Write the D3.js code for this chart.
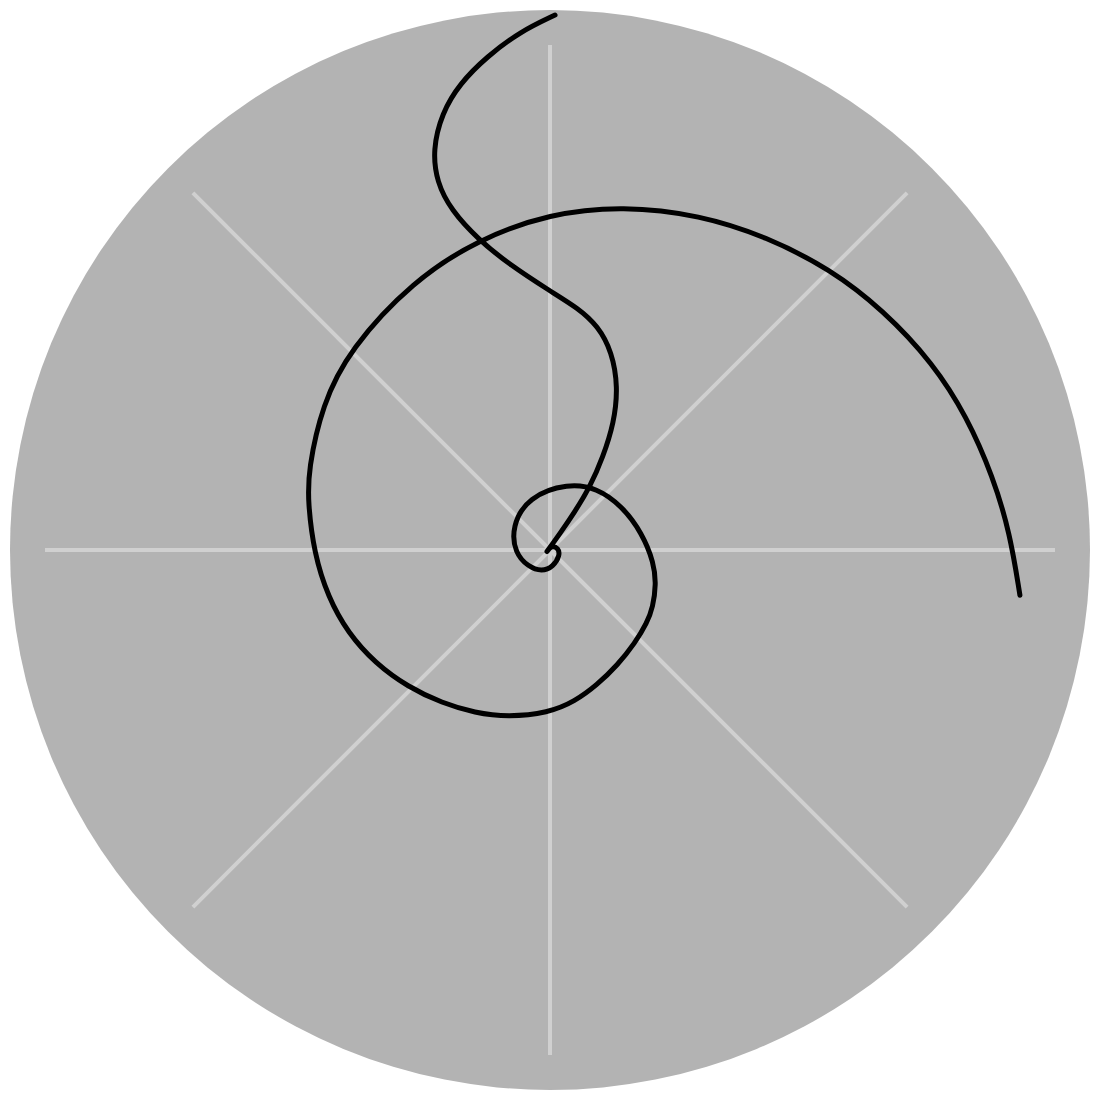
<!DOCTYPE html>
<html>
<head>
<meta charset="utf-8">
<script src="https://cdn.jsdelivr.net/npm/d3@7"></script>
<style>
  html, body { margin: 0; padding: 0; background: #ffffff; }
  svg { display: block; }
</style>
</head>
<body>
<svg id="chart" width="1100" height="1100"></svg>
<script>
// Angles in degrees, clockwise from north (12 o'clock)
const theta = [0.54, -3.31, -7.31, -10.92, -13.93, -16.34, -17.11, -16.23, -13.0, -7.99,
  0, 6.6, 12.09, 17.39, 22.65, 26.74, 29.68, 32.41, 32.97, 31.43,
  -116.6, 20.7, 78.4, 116.6, 168.8, 200.9, 232.4, 264.6, 301.3, 337.8,
  375.3, 397.2, 418.6, 439.5, 457.1, 468.0, 479.0, 487.0, 497.6, 509.6,
  520.8, 530.7, 540.7, 554.1, 564.7, 575.2, 586.0, 597.1, 607.7, 618.0,
  629.3, 641.0, 648.2, 662.5, 675.1, 693.0, 707.0, 720, 732.0, 744.1,
  754.7, 764.9, 774.2, 784.0, 792.3, 800.6, 807.9, 815.5];
// Radius values
const radius = [5.350, 5.192, 4.973, 4.753, 4.499, 4.168, 3.850, 3.541, 3.187, 2.878,
  2.590, 2.436, 2.291, 2.075, 1.766, 1.422, 1.070, 0.746, 0.441, 0.211,
  0.0335, 0.0481, 0.0847, 0.1118, 0.1702, 0.2323, 0.2738, 0.3516, 0.4483, 0.5755,
  0.6916, 0.778, 0.844, 0.936, 1.048, 1.115, 1.177, 1.214, 1.260, 1.335,
  1.429, 1.535, 1.630, 1.722, 1.794, 1.873, 1.973, 2.083, 2.184, 2.269,
  2.360, 2.465, 2.545, 2.702, 2.836, 3.019, 3.189, 3.365, 3.517, 3.670,
  3.809, 3.967, 4.105, 4.262, 4.377, 4.490, 4.603, 4.721];
// Radial grid (spoke) angles
const gridAngles = [0, 45, 90, 135, 180, 225, 270, 315];
const rMax = 5.4;
const gridMax = 5.05;

const svg = d3.select("#chart");
const cx = 550, cy = 550, outerR = 540;
const rScale = d3.scaleLinear().domain([0, rMax]).range([0, outerR]);
const toRad = d => d * Math.PI / 180;

const g = svg.append("g").attr("transform", `translate(${cx},${cy})`);

g.append("circle")
  .attr("r", rScale(rMax))
  .attr("fill", "#b3b3b3");

const spoke = d3.lineRadial()
  .angle(d => toRad(d[0]))
  .radius(d => rScale(d[1]));

g.selectAll("path.spoke")
  .data(gridAngles)
  .join("path")
  .attr("class", "spoke")
  .attr("d", a => spoke([[a, 0], [a, gridMax]]))
  .attr("fill", "none")
  .attr("stroke", "#d0d0d0")
  .attr("stroke-width", 4);

// Build points; the innermost (turning) point is held so the smooth curve reaches it
const tipIdx = d3.minIndex(radius);
const pts = [];
theta.forEach((t, i) => {
  const p = [t, radius[i]];
  pts.push(p);
  if (i === tipIdx) { pts.push(p, p); }
});

const line = d3.lineRadial()
  .angle(d => toRad(d[0]))
  .radius(d => rScale(d[1]))
  .curve(d3.curveBasis);

g.append("path")
  .datum(pts)
  .attr("d", line)
  .attr("fill", "none")
  .attr("stroke", "#000000")
  .attr("stroke-width", 5)
  .attr("stroke-linecap", "round")
  .attr("stroke-linejoin", "round");
</script>
</body>
</html>
